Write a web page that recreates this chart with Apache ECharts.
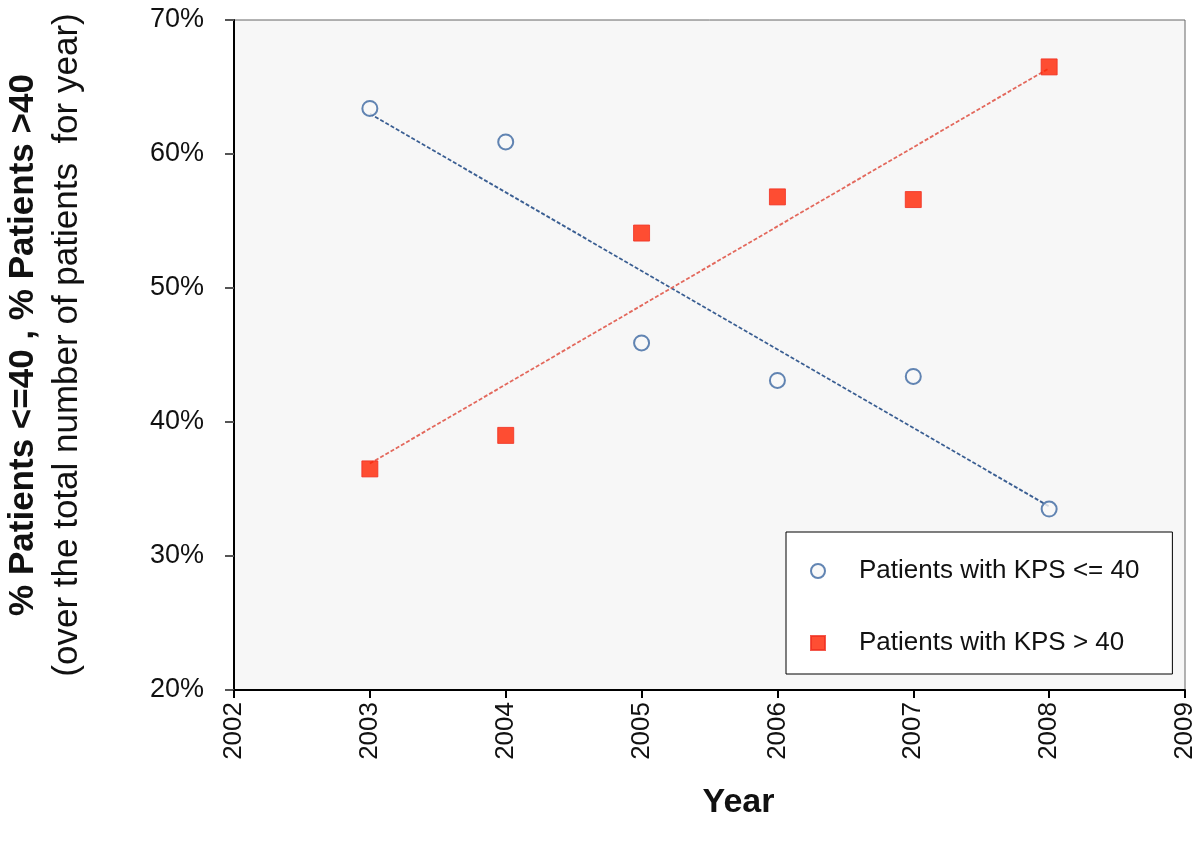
<!DOCTYPE html>
<html>
<head>
<meta charset="utf-8">
<script src="https://cdn.jsdelivr.net/npm/echarts@6/dist/echarts.min.js"></script>
<style>html,body{margin:0;padding:0;background:#fff}#c{width:1200px;height:847px}</style>
</head>
<body>
<div id="c"></div>
<script>
var years = [2003, 2004, 2005, 2006, 2007, 2008];
var kpsLow = [63.4, 60.9, 45.9, 43.1, 43.4, 33.5];
var kpsHigh = [36.5, 39.0, 54.1, 56.8, 56.6, 66.5];
var trendLowEnds = [[2003, 63.0], [2008, 33.7]];
var trendHighEnds = [[2003, 36.9], [2008, 66.4]];
var seriesNames = ['Patients with KPS <= 40', 'Patients with KPS > 40'];

var chart = echarts.init(document.getElementById('c'), null, {renderer: 'canvas'});
var font = 'Liberation Sans, Arial, sans-serif';
chart.setOption({
  animation: false,
  grid: {left: 234, right: 15, top: 20, bottom: 157, containLabel: false, outerBoundsMode: 'none',
    show: true, backgroundColor: '#f7f7f7', borderColor: '#666', borderWidth: 1},
  xAxis: {
    type: 'value', min: 2002, max: 2009, interval: 1,
    splitLine: {show: false},
    axisLine: {lineStyle: {color: '#000', width: 2}},
    axisTick: {length: 8, lineStyle: {color: '#000', width: 2}},
    axisLabel: {rotate: 90, margin: 12, fontSize: 26, color: '#111', fontFamily: font, formatter: function (v) { return String(v); }},
    name: 'Year', nameLocation: 'middle', nameGap: 96,
    nameTextStyle: {fontSize: 34, fontWeight: 'bold', color: '#111', fontFamily: font, padding: [0, 0, 0, 58]}
  },
  yAxis: {
    type: 'value', min: 20, max: 70, interval: 10,
    splitLine: {show: false},
    axisLine: {lineStyle: {color: '#000', width: 2}},
    axisTick: {length: 9, lineStyle: {color: '#555', width: 2}},
    axisLabel: {margin: 30, fontSize: 27, color: '#111', fontFamily: font, formatter: '{value}%'},
    name: '{b|% Patients <=40 , % Patients >40}\n{r|(over the total number of patients  for year)}',
    nameLocation: 'middle', nameGap: 145,
    nameTextStyle: {
      fontFamily: font, color: '#111', padding: [0, 0, 0, 20],
      rich: {
        b: {fontSize: 35, fontWeight: 'bold', fontFamily: font, color: '#111', lineHeight: 44},
        r: {fontSize: 35, fontFamily: font, color: '#111', lineHeight: 44}
      }
    }
  },
  legend: {
    data: seriesNames,
    orient: 'vertical', left: 786, top: 532,
    backgroundColor: '#fff', borderColor: '#000', borderWidth: 1,
    padding: [25, 33, 17, 24],
    itemWidth: 14, itemHeight: 14, itemGap: 44,
    textStyle: {fontSize: 26, color: '#111', fontFamily: font, lineHeight: 28, padding: [0, 0, 0, 29]}
  },
  series: [
    {name: 'trendLow', type: 'line', data: trendLowEnds, showSymbol: false, symbol: 'none', silent: true,
      lineStyle: {color: '#3a5e92', width: 1.8, type: [4, 2]}, z: 1},
    {name: 'trendHigh', type: 'line', data: trendHighEnds, showSymbol: false, symbol: 'none', silent: true,
      lineStyle: {color: '#e3685c', width: 1.8, type: [4, 2]}, z: 1},
    {name: seriesNames[0], type: 'scatter', data: years.map(function (y, i) { return [y, kpsLow[i]]; }),
      symbol: 'circle', symbolSize: 15,
      itemStyle: {color: '#f7f7f7', borderColor: '#3b66a0', borderWidth: 2}, z: 3},
    {name: seriesNames[1], type: 'scatter', data: years.map(function (y, i) { return [y, kpsHigh[i]]; }),
      symbol: 'rect', symbolSize: 16,
      itemStyle: {color: '#ff2200', borderColor: '#f03020', borderWidth: 1}, z: 3}
  ]
});
</script>
</body>
</html>
